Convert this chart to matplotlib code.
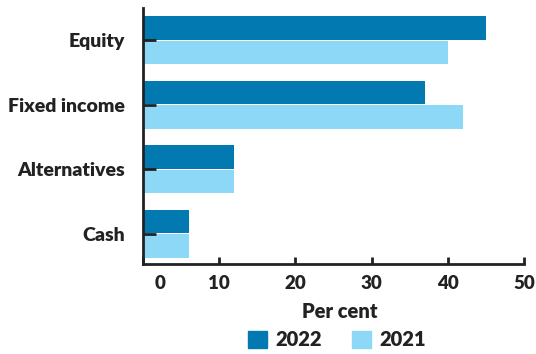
import matplotlib.pyplot as plt
import matplotlib.transforms as mtransforms
from matplotlib.patches import Patch
import numpy as np

plt.rcParams['font.family'] = ['Lato', 'DejaVu Sans']
plt.rcParams['font.weight'] = 'bold'

categories = ["Equity", "Fixed income", "Alternatives", "Cash"]
values_2022 = [45, 37, 12, 6]
values_2021 = [40, 42, 12, 6]
x_ticks = [0, 10, 20, 30, 40, 50]

dark = "#0279b1"
light = "#8ed8f7"
ink = "#222222"

fig = plt.figure(figsize=(5.36, 3.54), dpi=100)
ax = fig.add_axes([143 / 536, 1 - 264 / 354, (524 - 143) / 536, (264 - 8) / 354])

y = np.arange(len(categories))
h = 0.37
ax.barh(y - 0.19, values_2022, height=h, color=dark, label="2022")
ax.barh(y + 0.19, values_2021, height=h, color=light, label="2021")

ax.set_xlim(0, 50)
ax.set_ylim(3.47, -0.5)
ax.set_xticks(x_ticks)
ax.set_yticks(y)
ax.set_yticklabels(categories)

for s in ["top", "right"]:
    ax.spines[s].set_visible(False)
for s in ["left", "bottom"]:
    ax.spines[s].set_linewidth(2)
    ax.spines[s].set_color(ink)

ax.tick_params(axis="x", direction="in", length=5, width=2, color=ink,
               labelsize=13.5, labelcolor=ink, pad=8)
ax.tick_params(axis="y", direction="in", length=9, width=2, color=ink,
               labelsize=14, labelcolor=ink, pad=13)
for lab in ax.get_xticklabels() + ax.get_yticklabels():
    lab.set_fontweight("heavy")

# the "0" label sits a bit right of its tick in the original
first = ax.get_xticklabels()[0]
first.set_transform(first.get_transform() + mtransforms.ScaledTranslation(0.17, 0, fig.dpi_scale_trans))

fig.text(340 / 536, 1 - 312 / 354, "Per cent", ha="center", va="center",
         fontsize=14.5, fontweight="heavy", color=ink)
handles = [Patch(color=dark, label="2022"), Patch(color=light, label="2021")]
leg = fig.legend(handles=handles, loc="center", bbox_to_anchor=(337 / 536, 1 - 340 / 354),
                 ncol=2, frameon=False, fontsize=14.5, handlelength=0.95, handleheight=0.9,
                 handletextpad=0.4, columnspacing=1.5)
for t in leg.get_texts():
    t.set_color(ink)
    t.set_fontweight("heavy")

fig.savefig("out.png", dpi=100)
